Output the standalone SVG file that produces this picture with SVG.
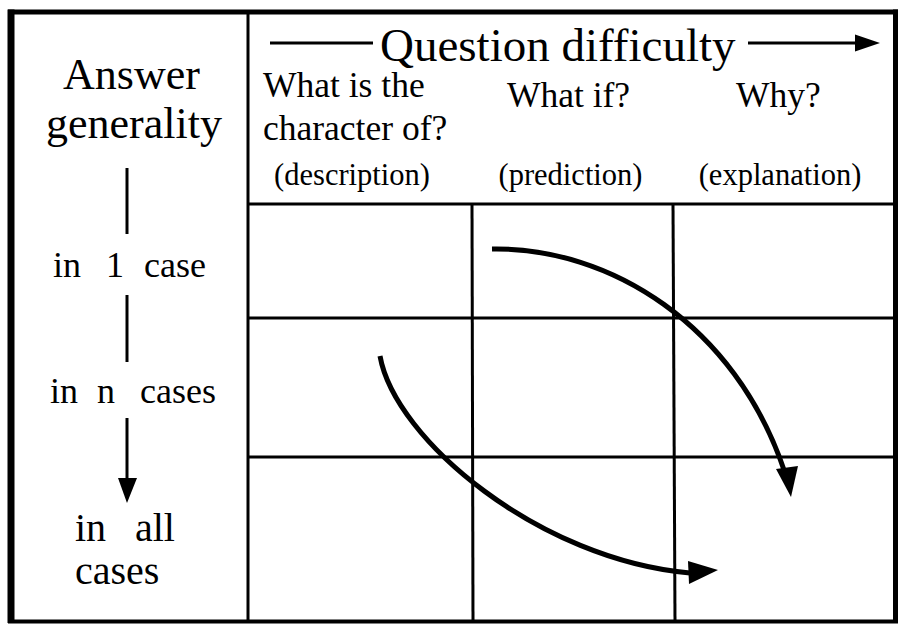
<svg xmlns="http://www.w3.org/2000/svg" width="902" height="625" viewBox="0 0 902 625">
<style>
.t{font-family:"Liberation Serif","Times New Roman",serif;fill:#000}
.grid{stroke:#000;stroke-width:3;fill:none}
.frame{stroke:#000;fill:none}
.ln{stroke:#000;stroke-width:3;fill:none}
.curve{stroke:#000;stroke-width:5;fill:none;stroke-linecap:butt}
.head{fill:#000;stroke:none}
</style>
<rect width="902" height="625" fill="#fff"/>
<g id="frame">
<line class="frame" x1="11" y1="9.5" x2="11" y2="623" stroke-width="7"/>
<line class="frame" x1="8" y1="12" x2="898" y2="12" stroke-width="5"/>
<line class="frame" x1="895.5" y1="9.5" x2="895.5" y2="623" stroke-width="5"/>
<line class="frame" x1="8" y1="621.5" x2="898" y2="621.5" stroke-width="4"/>
</g>
<g id="grid">
<line class="grid" x1="248" y1="12" x2="248" y2="621"/>
<line class="grid" x1="248" y1="204" x2="895" y2="204"/>
<line class="grid" x1="472" y1="204" x2="473" y2="621"/>
<line class="grid" x1="673" y1="204" x2="675" y2="621"/>
<line class="grid" x1="248" y1="318" x2="895" y2="318"/>
<line class="grid" x1="248" y1="457" x2="895" y2="457"/>
</g>
<g id="header-axis">
<line class="ln" x1="270" y1="43" x2="373" y2="43"/>
<text class="t" x="380" y="61" font-size="47">Question difficulty</text>
<line class="ln" x1="748" y1="43" x2="858" y2="43"/>
<polygon class="head" points="880,43 855,34.5 855,51.5"/>
</g>
<g id="col-description">
<text class="t" x="263" y="97" font-size="35.5">What is the</text>
<text class="t" x="263" y="140" font-size="35.5">character of?</text>
<text class="t" x="352" y="185" font-size="30.5" text-anchor="middle">(description)</text>
</g>
<g id="col-prediction">
<text class="t" x="568.5" y="107" font-size="35.5" text-anchor="middle">What if?</text>
<text class="t" x="570.5" y="185" font-size="30.5" text-anchor="middle">(prediction)</text>
</g>
<g id="col-explanation">
<text class="t" x="778.5" y="107" font-size="35.5" text-anchor="middle">Why?</text>
<text class="t" x="780" y="185" font-size="30.5" text-anchor="middle">(explanation)</text>
</g>
<g id="row-axis">
<text class="t" x="131.5" y="89" font-size="44" text-anchor="middle">Answer</text>
<text class="t" x="134" y="138" font-size="44" text-anchor="middle">generality</text>
<line class="ln" x1="127" y1="168" x2="127" y2="234"/>
<text class="t" y="277" font-size="36"><tspan x="53">in</tspan> <tspan x="106">1</tspan> <tspan x="144">case</tspan></text>
<line class="ln" x1="127" y1="295" x2="127" y2="362"/>
<text class="t" y="403" font-size="36"><tspan x="50">in</tspan> <tspan x="97">n</tspan> <tspan x="140">cases</tspan></text>
<line class="ln" x1="127" y1="418" x2="127" y2="482"/>
<polygon class="head" points="127,503 118,478 137,478"/>
<text class="t" y="541" font-size="40"><tspan x="75">in</tspan> <tspan x="135">all</tspan></text>
<text class="t" x="75" y="584" font-size="40">cases</text>
</g>
<g id="connectors">
<path class="curve" d="M492,249 C610,247 735,325 784,470"/>
<polygon class="head" points="791,497 776,469 798,466"/>
<path class="curve" d="M380,356 C395,440 540,560 690,573"/>
<polygon class="head" points="718,570 688,561 689,584"/>
</g>
</svg>
